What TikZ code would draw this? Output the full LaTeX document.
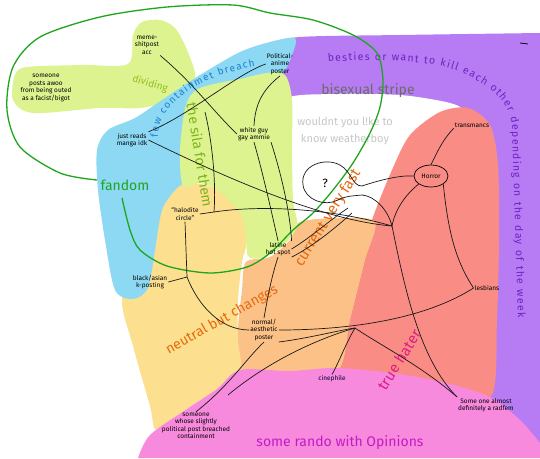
\documentclass[tikz,border=0pt]{standalone}
\usepackage{fontspec}
\setmainfont{Fira Sans}
\usetikzlibrary{decorations.text,shapes.geometric}
\definecolor{purp}{HTML}{B77CF3}
\definecolor{redc}{HTML}{F98C84}
\definecolor{peach}{HTML}{FCC187}
\definecolor{yell}{HTML}{FCDF8F}
\definecolor{greenl}{HTML}{DDF38F}
\definecolor{bluec}{HTML}{8DD9F4}
\definecolor{pinkc}{HTML}{F78ADD}
\definecolor{loopg}{HTML}{1DA61D}
\definecolor{purtext}{HTML}{6F22C4}
\definecolor{orant}{HTML}{E66A0F}
\definecolor{hatert}{HTML}{DD1F85}
\definecolor{randot}{HTML}{C21BC6}
\definecolor{bluet}{HTML}{1F7FD0}
\definecolor{divt}{HTML}{92BF1E}
\definecolor{silat}{HTML}{7BB41C}
\begin{document}
\begin{tikzpicture}[x=1pt,y=-1pt,
  lab/.style={font=\fontsize{6.5}{7.5}\selectfont, align=center, inner sep=1pt, text=black},
  conn/.style={draw=black!90, line width=0.7pt},
  big/.style={font=\fontsize{14}{16}\selectfont, inner sep=0pt}]
\useasboundingbox (0,0) rectangle (540,458);
\fill[white] (0,0) rectangle (540,458);
% regions
\fill[purp] plot[smooth] coordinates {(263,115) (265,70) (278,45) (300,37) (400,35) (540,33)} -- (540,446) -- (490,434) -- (300,220) -- cycle;
\fill[white] plot[smooth cycle] coordinates {(284,100) (330,94) (400,95) (450,103) (462,112) (430,130) (400,160) (380,200) (372,225) (330,220) (298,226) (290,190) (286,140)};
\fill[redc] plot[smooth cycle] coordinates {(392,170) (410,135) (440,112) (468,108) (490,125) (498,165) (499,240) (497,320) (492,395) (455,386) (400,376) (337,370) (348,320) (362,260) (372,220)};
\fill[peach] plot[smooth cycle] coordinates {(300,222) (340,218) (375,222) (365,260) (350,320) (338,370) (290,372) (240,370) (238,330) (242,290) (246,262) (270,257) (290,240)};
\fill[yell] plot[smooth cycle] coordinates {(160,190) (183,182) (217,189) (240,212) (247,240) (242,262) (238,300) (238,340) (240,369) (217,389) (187,409) (157,430) (150,406) (133,346) (122,300) (135,250) (150,205)};
\fill[greenl] plot[smooth cycle] coordinates {(13,100) (15,75) (27,67) (83,65) (128,64) (133,35) (142,22) (160,20) (175,28) (187,50) (195,80) (170,100) (140,108) (100,108) (33,113)};
\fill[bluec] plot[smooth cycle] coordinates {(295,38) (270,42) (240,52) (200,75) (165,98) (135,118) (108,130) (97,150) (98,190) (105,240) (115,290) (133,299) (148,288) (155,250) (162,210) (175,190) (185,180) (190,150) (200,110) (240,85) (280,75) (292,55)};
\fill[greenl] plot[smooth cycle] coordinates {(186,105) (200,88) (240,79) (267,73) (285,75) (292,100) (292,150) (293,200) (297,226) (283,246) (262,258) (248,256) (246,235) (240,213) (217,190) (200,183) (183,186) (180,150)};
\fill[pinkc] plot[smooth] coordinates {(138,458) (150,435) (187,409) (217,389) (240,370) (290,371) (337,368) (400,374) (450,384) (490,397) (520,420) (540,443)} -- (540,458) -- cycle;
% region texts
\path[decorate, decoration={text along path, text align=fit to path, text={|\fontsize{10.5}{12}\selectfont\color{purtext}|besties or want to kill each other depending on the day of the week}}]
  (328,62) .. controls (380,58) and (430,60) .. (460,72) .. controls (490,85) and (508,100) .. (512,125) -- (518,318);
\draw[black, line width=0.8pt] (520,43) -- (528,44);
\node[big, text=black!58, font=\fontsize{14}{16}\selectfont] (bistripe) at (368,91) {bisexual stripe};
\node[text=black!22, font=\fontsize{11}{17}\selectfont, align=center, inner sep=0pt] (weather) at (345,131) {wouldnt you l!ke to\\know weatherboy};
\node[big, text=loopg] (fandom) at (125,185) {fandom};
\node[text=divt, font=\fontsize{10}{12}\selectfont, rotate=-17, inner sep=0pt] (dividing) at (150,84) {dividing};
\path[decorate, decoration={text along path, text align=fit to path, text={|\fontsize{10}{12}\selectfont\color{bluet}|few containmet breach}}]
  (158,137) .. controls (158,105) and (195,78) .. (255,66);
\node[text=silat, font=\fontsize{14}{16}\selectfont, rotate=-81, inner sep=0pt] (sila) at (200,155) {the sila for them};
\node[big, text=orant, font=\fontsize{15}{17}\selectfont, rotate=58] (current) at (328,218) {current very fast};
\node[big, text=orant, font=\fontsize{14}{16}\selectfont, rotate=29.5] (neutral) at (222,320) {neutral but changes};
\node[big, text=hatert, font=\fontsize{15}{17}\selectfont, rotate=58] (hater) at (399,360) {true hater};
\node[big, text=randot] (rando) at (340,443) {some rando with Opinions};
% green loop
\draw[loopg, line width=1.3pt] plot[smooth] coordinates {(97,180) (60,173) (20,147) (7,110) (13,67) (40,37) (100,17) (167,7) (233,5) (270,13) (313,20) (353,35) (377,53) (383,80) (380,107) (370,133) (353,163) (333,190) (313,213) (293,230) (270,253) (247,267) (210,273) (167,266) (140,250) (130,230) (122,198)};
% labels
\node[lab] (meme) at (147,45) {meme-\\shitpost\\acc};
\node[lab] (awoo) at (46,88) {someone\\posts awoo\\from being outed\\as a facist/bigot};
\node[lab] (pol) at (280,64) {Political-\\anime\\poster};
\node[lab] (manga) at (132,140) {just reads\\manga idk};
\node[lab] (white) at (254,134) {white guy\\gay ammie};
\node[lab] (halo) at (185,214) {``halodite\\circle''};
\node[lab] (latine) at (278,249) {latine\\hot spot};
\node[lab] (black) at (150,282) {black/asian\\k-posting};
\node[lab] (normal) at (264,330) {normal/\\aesthetic\\poster};
\node[lab] (slightly) at (196,426) {someone\\whose slightly\\political post breached\\containment};
\node[lab, text=black!80!blue] (cine) at (332,379) {cinephile};
\node[lab] (radfem) at (486,405) {Some one almost\\definitely a radfem};
\node[lab] (lesb) at (487,288) {lesbians};
\node[lab] (trans) at (472,125) {transmancs};
\node[lab, draw=black, line width=0.7pt, ellipse, minimum width=34pt, minimum height=22pt] (horror) at (431,176) {Horror};
\node[font=\fontsize{12}{14}\selectfont, inner sep=0pt] (qmark) at (325,183) {?};
% junctions
\coordinate (j1) at (205,112);
\coordinate (jHalo) at (214,212);
\coordinate (jRed) at (392,226);
\coordinate (jHead) at (348,208);
\coordinate (jHeadb) at (352,213);
\coordinate (jBlack) at (187,277);
\coordinate (jFork) at (355,328);
\coordinate (jSl) at (228,395);
\coordinate (nk1) at (362,186);
\coordinate (nk2) at (362,195);
% head
\draw[conn] (nk1) .. controls (352,186) and (352,172) .. (340,165) .. controls (325,157) and (300,165) .. (303,185) .. controls (305,200) and (325,207) .. (338,200) .. controls (345,196) and (352,196) .. (nk2);
% connectors
\draw[conn] (meme.south east) .. controls (195,85) and (212,110) .. (white.west);
\draw[conn] (j1) .. controls (213,145) and (216,185) .. (jHalo) -- (halo.east);
\draw[conn] (jHalo) .. controls (260,205) and (330,208) .. (jRed);
\draw[conn] (manga.east) .. controls (220,175) and (320,220) .. (jRed);
\draw[conn] (jRed) .. controls (405,290) and (420,360) .. (radfem.north west);
\draw[conn] (manga.north east) .. controls (190,115) and (235,75) .. (pol.west);
\draw[conn] (pol.south) .. controls (262,90) and (255,105) .. (white.north);
\draw[conn] (white.south) .. controls (262,170) and (270,205) .. (latine.north);
\draw[conn] (white.south east) .. controls (280,170) and (290,210) .. (latine.north east);
\draw[conn] (latine.east) .. controls (310,238) and (330,220) .. (jHead);
\draw[conn] (latine.south east) .. controls (315,245) and (335,228) .. (jHeadb);
\draw[conn] (latine.south) .. controls (272,275) and (268,295) .. (normal.north);
\draw[conn] (halo.south) -- (jBlack) -- (black.east);
\draw[conn] (jBlack) .. controls (198,305) and (220,330) .. (normal.west);
\draw[conn] (normal.east) .. controls (340,330) and (420,322) .. (lesb.west);
\draw[conn] (lesb.west) .. controls (455,260) and (448,230) .. (horror.south east);
\draw[conn] (normal.south east) .. controls (310,338) and (340,330) .. (jFork);
\draw[conn] (jFork) .. controls (380,345) and (420,365) .. (radfem.north west);
\draw[conn] (jFork) .. controls (345,345) and (340,360) .. (cine.north);
\draw[conn] (normal.south) .. controls (245,360) and (230,385) .. (slightly.north);
\draw[conn] (jSl) .. controls (270,360) and (320,338) .. (jFork);
\draw[conn] (nk1) .. controls (380,180) and (400,175) .. (horror.west);
\draw[conn] (nk2) .. controls (375,196) and (388,210) .. (jRed);
\draw[conn] (horror.north) .. controls (436,155) and (442,140) .. (trans.south west);
\draw[conn] (horror.south west) .. controls (405,195) and (395,210) .. (jRed);
\end{tikzpicture}
\end{document}
